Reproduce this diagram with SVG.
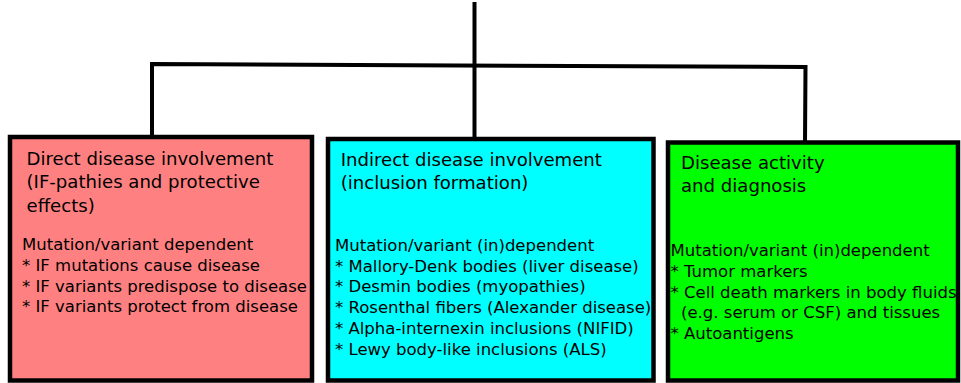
<svg xmlns="http://www.w3.org/2000/svg" width="961" height="383" viewBox="0 0 961 383">
<style>
.box{stroke:#000;stroke-width:4.5}
.conn{fill:none;stroke:#000;stroke-width:4}
.t{font-family:"DejaVu Sans",sans-serif;font-size:18.1px;fill:#000}
.b{font-family:"DejaVu Sans",sans-serif;font-size:16.5px;fill:#000}
</style>
<rect width="961" height="383" fill="#fff"/>
<g id="connectors">
<line class="conn" x1="474.5" y1="2" x2="474.5" y2="139"/>
<polyline class="conn" points="152,137 152,64 805.5,67 805,142"/>
</g>
<g id="node-direct">
<rect class="box" x="10" y="137" width="302" height="243.5" fill="#ff8080"/>
<text class="t" x="26.5" y="165">Direct disease involvement</text>
<text class="t" x="26.5" y="188">(IF-pathies and protective</text>
<text class="t" x="26.5" y="211.5">effects)</text>
<text class="b" x="22" y="250">Mutation/variant dependent</text>
<text class="b" x="22" y="270.7">* IF mutations cause disease</text>
<text class="b" x="22" y="291.5">* IF variants predispose to disease</text>
<text class="b" x="22" y="312.3">* IF variants protect from disease</text>
</g>
<g id="node-indirect">
<rect class="box" x="328" y="139" width="325.5" height="241.5" fill="#00ffff"/>
<text class="t" x="340.7" y="165.5">Indirect disease involvement</text>
<text class="t" x="340.7" y="188.5">(inclusion formation)</text>
<text class="b" x="335" y="250.7">Mutation/variant (in)dependent</text>
<text class="b" x="335" y="271.5">* Mallory-Denk bodies (liver disease)</text>
<text class="b" x="335" y="292.3">* Desmin bodies (myopathies)</text>
<text class="b" x="335" y="313.1">* Rosenthal fibers (Alexander disease)</text>
<text class="b" x="335" y="333.9">* Alpha-internexin inclusions (NIFID)</text>
<text class="b" x="335" y="354.7">* Lewy body-like inclusions (ALS)</text>
</g>
<g id="node-activity">
<rect class="box" x="668" y="142.5" width="290" height="238" fill="#00ff00"/>
<text class="t" x="681" y="169">Disease activity</text>
<text class="t" x="681" y="192">and diagnosis</text>
<text class="b" x="670.5" y="256">Mutation/variant (in)dependent</text>
<text class="b" x="670.5" y="276.8">* Tumor markers</text>
<text class="b" x="670.5" y="297.6">* Cell death markers in body fluids</text>
<text class="b" x="681" y="318.4">(e.g. serum or CSF) and tissues</text>
<text class="b" x="670.5" y="339.2">* Autoantigens</text>
</g>
</svg>
